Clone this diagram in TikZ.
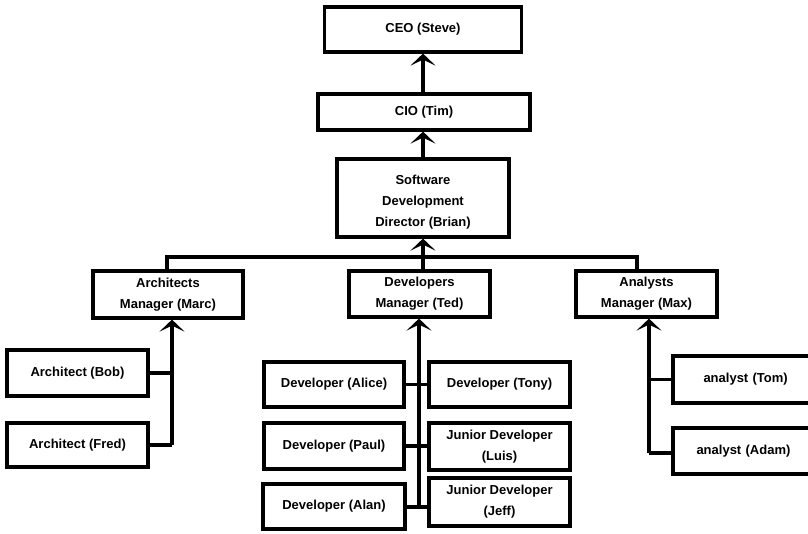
\documentclass[tikz,border=0pt]{standalone}
\usepackage{fontspec}
\setmainfont{Liberation Sans}
\usetikzlibrary{arrows.meta}
\begin{document}
\begin{tikzpicture}[x=1pt,y=-1pt,
  box/.style={draw, line width=3.2pt, align=center, inner sep=0pt,
    font=\fontsize{13}{21}\selectfont\bfseries},
  conn/.style={line width=3.2pt},
  arr/.style={line width=3.2pt, -{Stealth[length=12pt,width=25pt,inset=6pt]}}]
\useasboundingbox (0,0) rectangle (808,533);
% top chain
\node[box, minimum width=197pt, minimum height=45pt] (ceo) at (423,29.5) {CEO (Steve)};
\node[box, minimum width=212pt, minimum height=36pt] (cio) at (424,112) {CIO (Tim)};
\node[box, minimum width=172pt, minimum height=78pt] (sdd) at (423,198) {\rule{0pt}{17pt}Software\\Development\\Director (Brian)};
% managers
\node[box, minimum width=150pt, minimum height=47pt] (am) at (168,294.5) {Architects\\Manager (Marc)};
\node[box, minimum width=141pt, minimum height=46pt] (dm) at (419.5,294) {Developers\\Manager (Ted)};
\node[box, minimum width=141pt, minimum height=46pt] (nm) at (646.5,294) {Analysts\\Manager (Max)};
% architects
\node[box, minimum width=141pt, minimum height=46pt] (bob) at (77.5,373) {Architect (Bob)};
\node[box, minimum width=141pt, minimum height=44pt] (fred) at (77.5,445) {Architect (Fred)};
% developers
\node[box, minimum width=140pt, minimum height=45pt] (alice) at (334,384.5) {Developer (Alice)};
\node[box, minimum width=141pt, minimum height=45pt] (tony) at (499.5,384.5) {Developer (Tony)};
\node[box, minimum width=140pt, minimum height=46pt] (paul) at (334,446) {Developer (Paul)};
\node[box, minimum width=141pt, minimum height=47pt] (luis) at (499.5,446.5) {Junior Developer\\(Luis)};
\node[box, minimum width=142pt, minimum height=45pt] (alan) at (334,506.5) {Developer (Alan)};
\node[box, minimum width=141pt, minimum height=48pt] (jeff) at (499.5,502) {Junior Developer\\(Jeff)};
% analysts
\node[box, minimum width=137pt, minimum height=47pt, text width=120pt, align=left] (tom) at (741.5,379.5) {\hspace*{22pt}analyst (Tom)};
\node[box, minimum width=137pt, minimum height=46pt, text width=120pt, align=left] (adam) at (741.5,451) {\hspace*{15pt}analyst (Adam)};
% bus coordinates
\coordinate (busL) at (167,257);
\coordinate (busM) at (423,257);
\coordinate (busR) at (637,257);
\coordinate (aBot) at (172,445);
\coordinate (dBot) at (419,507);
\coordinate (nBot) at (649,453);
% top arrows
\draw[arr] (sdd.north |- cio.north) -- (sdd.north |- ceo.south);
\draw[arr] (sdd.north) -- (sdd.north |- cio.south);
\draw[arr] (busM) -- (sdd.south);
% bus
\draw[conn] (busL |- am.north) -- (busL) -- (busR) -- (busR |- nm.north);
\draw[conn] (busM) -- (busM |- dm.north);
% architects
\draw[arr] (aBot) -- (aBot |- am.south);
\draw[conn] (bob.east) -- (bob.east -| aBot);
\draw[conn] (fred.east) -- (aBot);
% developers
\draw[arr] (dBot) -- (dBot |- dm.south);
\draw[conn] (alice.east) -- (tony.west);
\draw[conn] (paul.east) -- (paul.east -| luis.west);
\draw[conn] (alan.east |- dBot) -- (dBot -| jeff.west);
% analysts
\draw[arr] (nBot) -- (nBot |- nm.south);
\draw[conn] (tom.west) -- (tom.west -| nBot);
\draw[conn] (adam.west |- nBot) -- (nBot);
\end{tikzpicture}
\end{document}
